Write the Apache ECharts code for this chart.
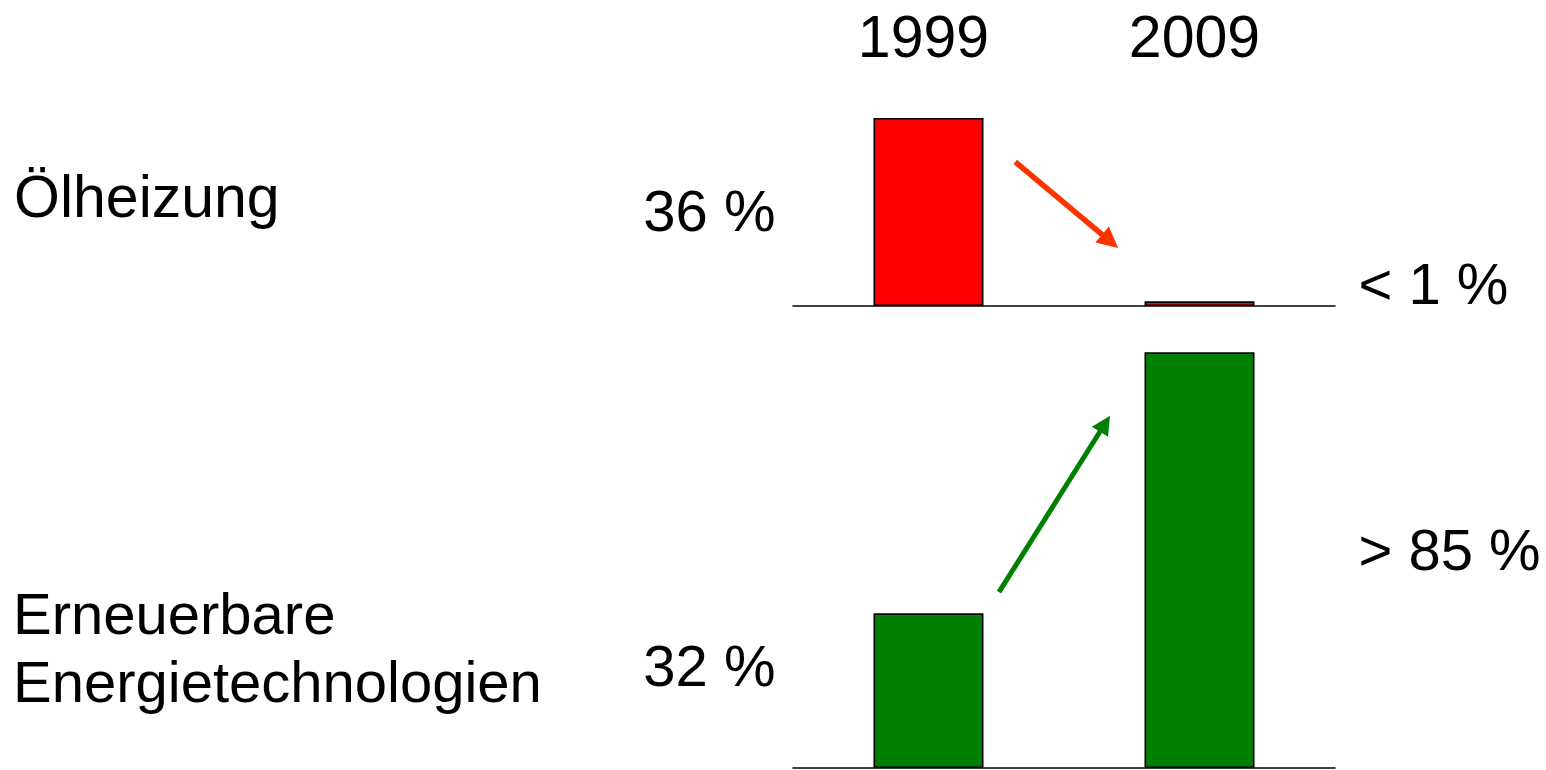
<!DOCTYPE html>
<html>
<head>
<meta charset="utf-8">
<title>Heizsysteme 1999 / 2009</title>
<script src="https://cdn.jsdelivr.net/npm/echarts@6/dist/echarts.min.js"></script>
<style>
  html, body { margin: 0; padding: 0; background: #ffffff; }
  #chart { width: 1546px; height: 770px; }
</style>
</head>
<body>
<div id="chart"></div>
<script>
// Jahre (Kategorien)
const years = ['1999', '2009'];
// Anteil Ölheizung in %
const oilShare = [36, 0.9];
// Anteil erneuerbarer Energietechnologien in %
const renewableShare = [32, 86];
// Beschriftungen der Balken
const oilLabels = ['36 %', '< 1 %'];
const renewableLabels = ['32 %', '> 85 %'];
// Zeilentitel
const oilTitle = 'Ölheizung';
const renewableTitle = 'Erneuerbare\nEnergietechnologien';
// Trendpfeile: [Kategorieindex, Versatz in Kategoriebreiten, Wert in %]
const oilArrow = [[0, 0.32, 27.6], [1, -0.30, 11.1]];
const renewableArrow = [[0, 0.26, 36.4], [1, -0.33, 72.9]];

const FONT = '"Liberation Sans", Arial, sans-serif';
const chart = echarts.init(document.getElementById('chart'), null, { renderer: 'canvas' });

function barLabel(text, side, distance, dy) {
  return {
    show: true,
    formatter: text,
    position: side,
    distance: distance,
    offset: [0, dy],
    color: '#000',
    fontSize: 58,
    fontFamily: FONT
  };
}

const hiddenCat = (grid) => ({
  gridIndex: grid,
  type: 'category',
  data: years,
  axisLine: { show: true, lineStyle: { color: '#000', width: 1.5 } },
  axisTick: { show: false },
  axisLabel: { show: false },
  splitLine: { show: false }
});

chart.setOption({
  animation: false,
  backgroundColor: '#ffffff',
  grid: [
    { left: 793, right: 211, top: 97, height: 209 },
    { left: 793, right: 211, top: 333, height: 435 }
  ],
  xAxis: [
    hiddenCat(0),
    hiddenCat(1),
    {
      gridIndex: 0,
      type: 'category',
      data: years,
      position: 'top',
      axisLine: { show: false },
      axisTick: { show: false },
      axisLabel: {
        show: true,
        color: '#000',
        fontSize: 59,
        fontFamily: FONT,
        verticalAlign: 'middle',
        padding: [0, 10, 0, 0],
        margin: 56
      }
    }
  ],
  yAxis: [
    { gridIndex: 0, type: 'value', min: 0, max: 40, show: false },
    { gridIndex: 1, type: 'value', min: 0, max: 90, show: false }
  ],
  series: [
    {
      name: 'Ölheizung',
      type: 'bar',
      xAxisIndex: 0,
      yAxisIndex: 0,
      barWidth: 110,
      itemStyle: { color: '#ff0000', borderColor: '#000', borderWidth: 1.6 },
      data: oilShare.map((v, i) => ({
        value: v,
        label: i === 0 ? barLabel(oilLabels[i], 'left', 98, 3)
                       : barLabel(oilLabels[i], 'right', 104, -16)
      }))
    },
    {
      name: 'Erneuerbare Energietechnologien',
      type: 'bar',
      xAxisIndex: 1,
      yAxisIndex: 1,
      barWidth: 110,
      itemStyle: { color: '#008000', borderColor: '#000', borderWidth: 1.6 },
      data: renewableShare.map((v, i) => ({
        value: v,
        label: i === 0 ? barLabel(renewableLabels[i], 'left', 98, -21)
                       : barLabel(renewableLabels[i], 'right', 104, -6)
      }))
    }
  ]
});

// Pfeil zwischen zwei Punkten im Datenraum eines Rasters
function arrowGraphic(points, gridIndex, color, width, headLen, headWidth) {
  const finder = { xAxisIndex: gridIndex, yAxisIndex: gridIndex };
  const c0 = chart.convertToPixel(finder, [0, 0]);
  const c1 = chart.convertToPixel(finder, [1, 0]);
  const band = c1[0] - c0[0];
  const px = points.map(([cat, shift, val]) => {
    const p = chart.convertToPixel(finder, [cat, val]);
    return [p[0] + shift * band, p[1]];
  });
  const [a, b] = px;
  const dx = b[0] - a[0], dy = b[1] - a[1];
  const len = Math.sqrt(dx * dx + dy * dy);
  const ux = dx / len, uy = dy / len;
  const nx = -uy, ny = ux;
  const base = [b[0] - ux * headLen, b[1] - uy * headLen];
  return [
    {
      type: 'line',
      shape: { x1: a[0], y1: a[1], x2: base[0] + ux * 2, y2: base[1] + uy * 2 },
      style: { stroke: color, lineWidth: width },
      z: 10
    },
    {
      type: 'polygon',
      shape: {
        points: [
          b,
          [base[0] + nx * headWidth / 2, base[1] + ny * headWidth / 2],
          [base[0] - nx * headWidth / 2, base[1] - ny * headWidth / 2]
        ]
      },
      style: { fill: color },
      z: 10
    }
  ];
}

chart.setOption({
  graphic: [
    {
      type: 'text',
      x: 14,
      y: 201,
      style: {
        text: oilTitle,
        fill: '#000',
        font: '59px ' + FONT,
        verticalAlign: 'middle'
      }
    },
    {
      type: 'text',
      x: 13,
      y: 652,
      style: {
        text: renewableTitle,
        fill: '#000',
        font: '58px ' + FONT,
        lineHeight: 68,
        verticalAlign: 'middle'
      }
    },
    ...arrowGraphic(oilArrow, 0, '#ff3300', 5.5, 21, 21),
    ...arrowGraphic(renewableArrow, 1, '#008000', 5, 19, 19)
  ]
});
</script>
</body>
</html>
